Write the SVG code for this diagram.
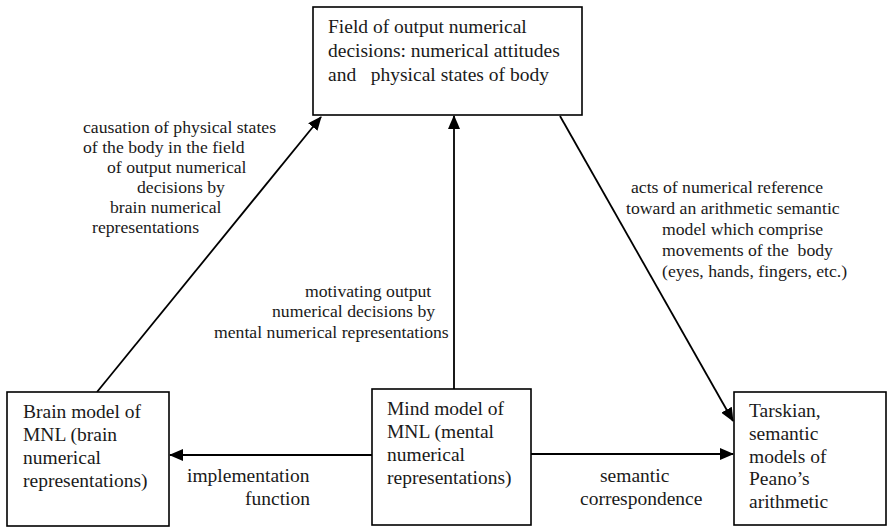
<svg xmlns="http://www.w3.org/2000/svg" width="887" height="527" viewBox="0 0 887 527">
<style>
.box{fill:#fff;stroke:#000;stroke-width:1.6}
.t{font-family:"Liberation Serif","Times New Roman",serif;font-size:19.5px;fill:#1a1a1a}
.s{font-family:"Liberation Serif","Times New Roman",serif;font-size:17.7px;fill:#1a1a1a}
.c{stroke:#000;stroke-width:1.8;fill:none;marker-end:url(#ah)}
</style>
<defs>
<marker id="ah" markerUnits="userSpaceOnUse" markerWidth="14" markerHeight="12" refX="13" refY="6" orient="auto">
<path d="M0,0 L14,6 L0,12 z" fill="#000"/>
</marker>
</defs>
<rect width="887" height="527" fill="#fff"/>
<g id="connectors">
<line class="c" x1="97" y1="392" x2="321" y2="117"/>
<line class="c" x1="454" y1="389" x2="454" y2="116"/>
<line class="c" x1="560" y1="116" x2="733" y2="421"/>
<line class="c" x1="372" y1="455" x2="170" y2="455"/>
<line class="c" x1="531" y1="454" x2="733" y2="454"/>
</g>
<g id="top">
<rect class="box" x="313" y="7" width="269" height="108"/>
<text class="t" x="328" y="33">Field of output numerical</text>
<text class="t" x="328" y="57">decisions: numerical attitudes</text>
<text class="t" x="328" y="81" xml:space="preserve">and   physical states of body</text>
</g>
<g id="brain">
<rect class="box" x="7" y="392" width="162" height="134"/>
<text class="t" x="23" y="418">Brain model of</text>
<text class="t" x="23" y="441">MNL (brain</text>
<text class="t" x="23" y="464">numerical</text>
<text class="t" x="23" y="487">representations)</text>
</g>
<g id="mind">
<rect class="box" x="372" y="389" width="159" height="136"/>
<text class="t" x="387" y="415">Mind model of</text>
<text class="t" x="387" y="438">MNL (mental</text>
<text class="t" x="387" y="461">numerical</text>
<text class="t" x="387" y="484">representations)</text>
</g>
<g id="tarski">
<rect class="box" x="734" y="392" width="152" height="133"/>
<text class="t" x="749" y="417">Tarskian,</text>
<text class="t" x="749" y="440">semantic</text>
<text class="t" x="749" y="463">models of</text>
<text class="t" x="749" y="485">Peano’s</text>
<text class="t" x="749" y="508">arithmetic</text>
</g>
<g id="labels">
<text class="s" x="83" y="133">causation of physical states</text>
<text class="s" x="83" y="153">of the body in the field</text>
<text class="s" x="107" y="173">of output numerical</text>
<text class="s" x="137" y="193">decisions by</text>
<text class="s" x="110" y="213">brain numerical</text>
<text class="s" x="92" y="233">representations</text>
<text class="s" x="631" y="193">acts of numerical reference</text>
<text class="s" x="626" y="214">toward an arithmetic semantic</text>
<text class="s" x="662" y="235">model which comprise</text>
<text class="s" x="662" y="256" xml:space="preserve">movements of the  body</text>
<text class="s" x="662" y="277">(eyes, hands, fingers, etc.)</text>
<text class="s" x="305" y="297">motivating output</text>
<text class="s" x="272" y="317">numerical decisions by</text>
<text class="s" x="214" y="338">mental numerical representations</text>
<text class="t" x="187" y="482">implementation</text>
<text class="t" x="245" y="505">function</text>
<text class="t" x="600" y="482">semantic</text>
<text class="t" x="580" y="505">correspondence</text>
</g>
</svg>
